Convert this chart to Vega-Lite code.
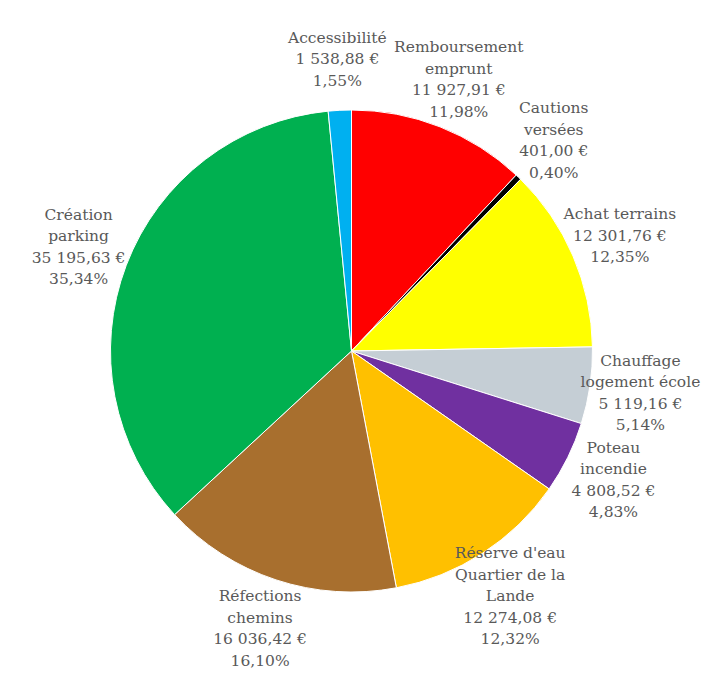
{
  "$schema": "https://vega.github.io/schema/vega-lite/v6.json",
  "autosize": "none",
  "width": 703,
  "height": 682,
  "padding": {"top": 10, "left": 0, "right": 0, "bottom": 0},
  "background": "white",
  "config": {"view": {"stroke": null}},
  "data": {
    "values": [
      {"ordre": 1, "poste": "Remboursement emprunt", "montant": 11927.91, "label": "Remboursement\nemprunt\n11 927,91 €\n11,98%"},
      {"ordre": 2, "poste": "Cautions versées", "montant": 401.00, "label": "Cautions\nversées\n401,00 €\n0,40%"},
      {"ordre": 3, "poste": "Achat terrains", "montant": 12301.76, "label": "Achat terrains\n12 301,76 €\n12,35%"},
      {"ordre": 4, "poste": "Chauffage logement école", "montant": 5119.16, "label": "Chauffage\nlogement école\n5 119,16 €\n5,14%"},
      {"ordre": 5, "poste": "Poteau incendie", "montant": 4808.52, "label": "Poteau\nincendie\n4 808,52 €\n4,83%"},
      {"ordre": 6, "poste": "Réserve d'eau Quartier de la Lande", "montant": 12274.08, "label": "Réserve d'eau\nQuartier de la\nLande\n12 274,08 €\n12,32%"},
      {"ordre": 7, "poste": "Réfections chemins", "montant": 16036.42, "label": "Réfections\nchemins\n16 036,42 €\n16,10%"},
      {"ordre": 8, "poste": "Création parking", "montant": 35195.63, "label": "Création\nparking\n35 195,63 €\n35,34%"},
      {"ordre": 9, "poste": "Accessibilité", "montant": 1538.88, "label": "Accessibilité\n1 538,88 €\n1,55%"}
    ]
  },
  "encoding": {
    "theta": {"field": "montant", "type": "quantitative", "stack": true},
    "order": {"field": "ordre", "type": "quantitative"}
  },
  "layer": [
    {
      "mark": {"type": "arc", "outerRadius": 241, "stroke": "white", "strokeWidth": 1},
      "encoding": {
        "color": {
          "field": "poste",
          "type": "nominal",
          "legend": null,
          "scale": {
            "domain": ["Remboursement emprunt", "Cautions versées", "Achat terrains", "Chauffage logement école", "Poteau incendie", "Réserve d'eau Quartier de la Lande", "Réfections chemins", "Création parking", "Accessibilité"],
            "range": ["#FF0000", "#000000", "#FFFF00", "#C5CED5", "#7030A0", "#FFC000", "#A86F2E", "#00B050", "#00B0F0"]
          }
        }
      }
    },
    {
      "mark": {"type": "text", "radius": 292, "font": "DejaVu Serif", "fontSize": 15.5, "lineHeight": 21.5, "lineBreak": "\n", "color": "#595959", "align": "center", "baseline": "middle",
        "dy": {"expr": "-(split(datum.label, '\\n').length - 1) * 10.75"}},
      "encoding": {
        "text": {"field": "label", "type": "nominal"}
      }
    }
  ]
}
